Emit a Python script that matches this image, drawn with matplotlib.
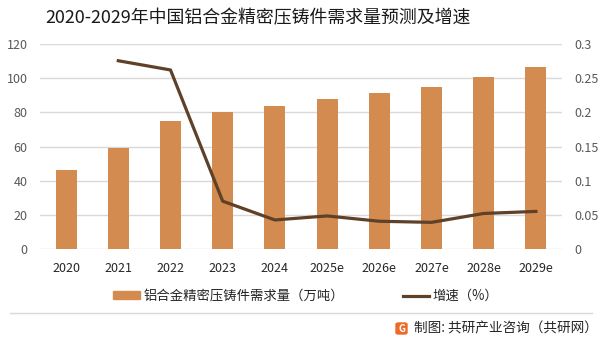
import matplotlib
matplotlib.use("Agg")
import matplotlib.pyplot as plt
from matplotlib.patches import FancyBboxPatch
from matplotlib.lines import Line2D

plt.rcParams['font.family'] = ['Noto Sans CJK SC', 'DejaVu Sans']

years = ["2020", "2021", "2022", "2023", "2024", "2025e", "2026e", "2027e", "2028e", "2029e"]
demand = [46.3, 59.4, 75.0, 80.2, 83.8, 87.9, 91.4, 95.1, 100.4, 106.3]
growth_years = ["2021", "2022", "2023", "2024", "2025e", "2026e", "2027e", "2028e", "2029e"]
growth = [0.2755, 0.262, 0.070, 0.0425, 0.0484, 0.0406, 0.039, 0.052, 0.055]

title = "2020-2029年中国铝合金精密压铸件需求量预测及增速"
bar_label = "铝合金精密压铸件需求量（万吨）"
line_label = "增速（%）"
source = "制图: 共研产业咨询（共研网）"

BAR_C = "#D38B4F"
LINE_C = "#5E4128"
GRID_C = "#D9D9D9"
TICK_C = "#595959"

fig = plt.figure(figsize=(6.02, 3.45), dpi=100)
W, H = 602, 345
ax = fig.add_axes([40 / W, 1 - 249 / H, (562 - 40) / W, (249 - 44) / H])
ax2 = ax.twinx()

x = list(range(len(years)))
ax.bar(x, demand, width=0.40, color=BAR_C, zorder=2)
ax.set_ylim(0, 120)
ax.set_yticks([0, 20, 40, 60, 80, 100, 120])
ax.set_xlim(-0.5, len(years) - 0.5)
ax.set_xticks(x)
ax.set_xticklabels(years)
ax.grid(axis='y', color=GRID_C, linewidth=1.0, zorder=0)
ax.set_axisbelow(True)

gx = [years.index(y) for y in growth_years]
ax2.plot(gx, growth, color=LINE_C, linewidth=2.3, zorder=3)
ax2.set_ylim(0, 0.3)
ax2.set_yticks([0, 0.05, 0.1, 0.15, 0.2, 0.25, 0.3])
ax2.set_yticklabels(["0", "0.05", "0.1", "0.15", "0.2", "0.25", "0.3"])

for a in (ax, ax2):
    for s in a.spines.values():
        s.set_visible(False)
    a.tick_params(length=0, labelsize=9, colors=TICK_C)
ax.tick_params(axis='x', pad=9, colors="#262626")
ax.tick_params(axis='y', pad=9)
ax2.tick_params(axis='y', pad=9)

fig.text(258 / W, 1 - 18 / H, title, ha='center', va='center', fontsize=12.9, color="#1a1a1a")

handles = [plt.Rectangle((0, 0), 1, 1, color=BAR_C),
           Line2D([0], [0], color=LINE_C, linewidth=2.3)]
fig.legend(handles, [bar_label, line_label], loc='center', ncol=2,
           bbox_to_anchor=(306 / W, 1 - 296 / H), frameon=False, fontsize=9.6,
           handlelength=2.0, handleheight=0.55, handletextpad=0.25,
           columnspacing=4.4, labelcolor="#262626")

fig.add_artist(Line2D([10 / W, 592 / W], [1 - 313 / H, 1 - 313 / H],
                      transform=fig.transFigure, color="#D9D9D9", linewidth=1.0))

# logo
fig.add_artist(FancyBboxPatch((396 / W, 1 - 334 / H), 11 / W, 11 / H,
                              boxstyle="round,pad=0,rounding_size=0.004",
                              transform=fig.transFigure, color="#EE6A2C"))
fig.text(401.5 / W, 1 - 328.5 / H, "G", ha='center', va='center', fontsize=7,
         color='white', fontweight='bold')
fig.text(414 / W, 1 - 328.5 / H, source, ha='left', va='center', fontsize=9.8, color="#262626")

fig.savefig("out.png", dpi=100)
